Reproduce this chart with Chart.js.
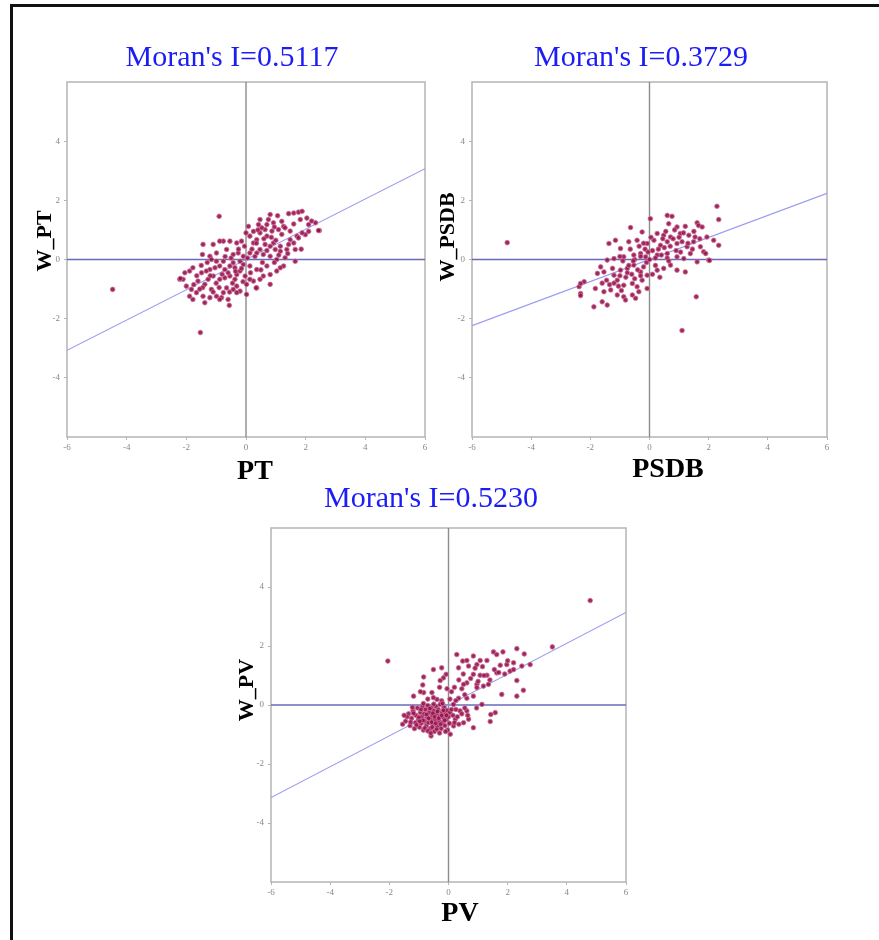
<!DOCTYPE html>
<html>
<head>
<meta charset="utf-8">
<script src="https://cdn.jsdelivr.net/npm/chart.js@4.4.1/dist/chart.umd.min.js"></script>
<style>
  html, body { margin: 0; padding: 0; background: #fff; }
  #page { position: relative; width: 879px; height: 940px; overflow: hidden; }
  #page canvas { position: absolute; left: 0; top: 0; }
  #frame { position: absolute; left: 10px; top: 4px; right: -10px; bottom: -10px;
           border-top: 3px solid #111; border-left: 3px solid #111; }
</style>
</head>
<body>
<div id="page">
  <div id="frame"></div>
  <canvas id="c-pt" width="879" height="940"></canvas>
  <canvas id="c-psdb" width="879" height="940"></canvas>
  <canvas id="c-pv" width="879" height="940"></canvas>
</div>
<script>
// Moran's I scatter plots (x = standardized value, y = spatial lag)
const panelNames = ['PT', 'PSDB', 'PV'];
const lagNames = ['W_PT', 'W_PSDB', 'W_PV'];
const moranI = [0.5117, 0.3729, 0.5230];
const xTicks = [-6, -4, -2, 0, 2, 4, 6];
const yTicks = [-4, -2, 0, 2, 4];
const axisMin = -6;
const axisMax = 6;

// PT vs W_PT
const ptPoints = [
  [1.43,1.55],[1.60,1.57],[1.76,1.60],[1.88,1.63],[1.06,1.48],[0.81,1.52],[0.47,1.35],[0.42,1.18],
  [0.70,1.18],[0.92,1.24],[1.20,1.29],[1.26,1.12],[1.82,1.35],[2.04,1.40],[2.10,1.18],[2.46,0.98],
  [2.33,1.24],[1.99,0.84],[1.71,0.79],[1.48,0.67],[1.65,0.34],[1.37,0.34],[1.15,0.45],[0.92,0.56],
  [0.70,0.79],[0.47,0.90],[0.36,0.67],[0.25,0.56],[0.13,0.79],[0.08,1.12],[0.00,0.90],[-0.15,0.62],
  [-0.31,0.56],[-0.54,0.62],[-0.76,0.62],[-0.88,0.62],[-1.10,0.51],[-1.44,0.51],[-1.46,0.17],[-1.21,0.11],
  [-0.99,0.22],[-0.65,0.34],[-0.43,0.17],[-0.26,0.22],[-0.09,0.11],[0.13,0.22],[0.36,0.22],[0.58,0.17],
  [0.81,0.11],[1.03,0.00],[1.31,0.06],[1.65,-0.06],[1.26,-0.22],[1.15,-0.28],[1.03,-0.39],[0.81,-0.51],
  [0.58,-0.56],[0.47,-0.67],[0.36,-0.96],[0.25,-0.73],[0.13,-0.67],[-0.03,-0.56],[-0.20,-0.39],[-0.37,-0.28],
  [-0.54,-0.22],[-0.71,-0.34],[-0.88,-0.22],[-1.04,-0.28],[-1.21,-0.34],[-1.33,-0.39],[-1.49,-0.45],[-1.78,-0.28],
  [-1.89,-0.39],[-2.11,-0.67],[-2.22,-0.67],[-2.00,-0.90],[-1.83,-1.01],[-1.66,-1.12],[-1.44,-1.24],[-1.21,-1.29],
  [-0.99,-1.24],[-0.76,-1.12],[-0.65,-0.96],[-0.43,-1.01],[-0.31,-0.90],[-0.20,-1.07],[0.02,-1.18],[-0.60,-1.35],
  [-0.82,-1.29],[-1.16,-1.01],[-1.38,-0.84],[-1.61,-0.73],[-1.27,-0.67],[-1.10,-0.56],[-0.88,-0.67],[-0.71,-0.62],
  [-0.54,-0.56],[-0.37,-0.67],[-0.31,-0.51],[-1.89,-1.24],[-1.78,-1.35],[-1.38,-1.46],[-0.88,-1.35],[-0.56,-1.55],
  [-0.31,-1.12],[0.34,-0.96],[0.81,-0.84],[0.02,-0.84],[0.70,-0.22],[0.36,-0.34],[0.13,-0.22],[-0.09,-0.17],
  [-0.20,-0.06],[-0.43,-0.11],[-0.76,-0.06],[-0.99,-0.06],[-1.16,0.00],[0.47,0.34],[0.64,0.51],[0.81,0.45],
  [0.98,0.34],[1.15,0.28],[1.43,0.51],[1.60,0.56],[1.76,0.73],[1.88,0.90],[1.48,0.96],[1.31,1.07],
  [1.09,1.01],[0.87,0.96],[0.64,1.01],[0.53,1.07],[-0.90,1.46],[-1.53,-2.47],[-4.47,-1.01],[-2.20,-0.64],
  [-0.15,-0.30],[0.05,0.05],[0.20,0.35],[0.30,0.10],[-0.60,-0.45],[-0.80,-0.50],[-1.00,-0.80],[-0.45,-0.80],
  [0.15,-0.45],[0.55,-0.10],[0.60,0.70],[0.85,0.75],[1.00,0.65],[1.20,0.85],[0.40,1.00],[0.75,1.35],
  [0.95,1.10],[-0.25,0.35],[-0.50,0.05],[-0.70,0.10],[-1.30,-0.10],[-1.50,-0.20],[-1.65,-0.55],[-1.10,-1.10],
  [-0.90,-0.95],[-0.55,-1.10],[-1.45,-0.95],[-1.75,-0.85],[-2.05,-0.45],[0.95,-0.10],[1.40,0.20],[1.85,0.35],
  [2.10,0.95],[2.20,1.30],[-0.05,0.45],[0.25,0.95],[1.60,1.20],[-0.35,-0.40],[-0.10,-0.75],[0.50,-0.35],
  [-1.20,-0.55],[-1.55,-1.00],[0.70,0.30],[1.10,0.15],[0.35,0.55],[2.43,0.98]
];

// PSDB vs W_PSDB
const psdbPoints = [
  [2.28,1.80],[2.34,1.35],[0.03,1.38],[0.60,1.49],[0.76,1.46],[-0.64,1.08],[0.65,1.21],[0.93,1.10],
  [1.21,1.12],[1.61,1.24],[1.66,1.15],[1.78,1.10],[-0.25,0.93],[0.26,0.88],[0.48,0.82],[0.71,0.76],
  [1.04,0.88],[1.33,0.82],[1.54,0.76],[1.94,0.76],[2.17,0.65],[2.34,0.48],[-1.15,0.65],[-1.37,0.54],
  [-0.98,0.37],[-0.70,0.60],[-0.42,0.65],[-0.08,0.54],[0.15,0.65],[0.37,0.48],[0.60,0.60],[0.93,0.54],
  [1.27,0.43],[1.49,0.60],[1.72,0.43],[1.83,0.26],[-1.43,-0.02],[-1.20,0.03],[-0.87,0.09],[-0.53,0.15],
  [-0.30,0.20],[-0.13,0.09],[0.26,0.15],[0.60,0.20],[0.93,0.09],[1.16,0.03],[1.38,0.20],[1.61,-0.08],
  [2.00,-0.02],[-1.65,-0.25],[-1.76,-0.47],[-1.54,-0.42],[-1.20,-0.53],[-0.98,-0.36],[-0.75,-0.30],[-0.53,-0.19],
  [-0.30,-0.42],[-0.08,-0.53],[0.26,-0.36],[0.48,-0.30],[0.71,-0.19],[0.93,-0.36],[1.21,-0.42],[-2.21,-0.75],
  [-2.38,-0.92],[-2.33,-1.15],[-1.83,-0.98],[-1.54,-1.09],[-1.31,-1.03],[-1.09,-0.70],[-0.87,-0.87],[-0.58,-0.81],
  [-0.42,-0.92],[-0.08,-0.98],[-1.09,-1.20],[-0.87,-1.26],[-0.58,-1.20],[-0.36,-1.09],[-1.88,-1.60],[-1.60,-1.43],
  [-1.43,-1.54],[-0.81,-1.37],[-0.47,-1.31],[1.58,-1.26],[1.10,-2.40],[-4.81,0.57],[2.03,-0.03],[-2.33,-0.81],
  [-2.33,-1.22],[-0.50,0.00],[-0.30,0.10],[-0.10,-0.10],[0.10,0.30],[0.30,0.35],[0.50,0.40],[0.70,0.45],
  [0.90,0.30],[1.10,0.60],[1.30,0.55],[0.00,0.00],[-0.20,-0.25],[-0.40,-0.35],[-0.60,-0.50],[-0.80,-0.60],
  [-1.00,-0.55],[-1.20,-0.80],[-0.70,-0.20],[-0.90,-0.05],[0.20,0.05],[0.40,0.15],[0.60,0.05],[0.80,0.70],
  [1.00,0.75],[0.55,0.95],[-0.15,0.35],[-0.65,0.35],[-1.00,0.10],[-1.25,-0.30],[-1.45,-0.70],[-0.25,-0.70],
  [0.10,-0.50],[0.35,-0.60],[-0.50,-0.65],[1.50,0.95],[1.70,0.70],[1.90,0.20],[-0.35,0.45],[0.05,0.75],
  [-1.60,-0.80],[0.85,1.00],[1.15,0.90],[0.45,0.70],[-0.05,0.25],[-0.55,-0.05],[-0.75,-0.45],[-1.05,-0.90],
  [0.20,-0.20],[0.65,-0.05],[1.05,0.25],[1.45,0.35],[-0.20,0.55],[-1.35,-0.85],[-0.95,-1.05],[-0.30,-0.55]
];

// PV vs W_PV
const pvPoints = [
  [4.79,3.54],[3.51,1.97],[-2.05,1.49],[1.52,1.80],[1.84,1.80],[2.31,1.91],[2.56,1.73],[2.76,1.37],
  [2.20,1.43],[1.97,1.37],[1.75,1.35],[1.63,1.71],[1.30,1.51],[1.07,1.51],[0.84,1.66],[0.62,1.51],
  [0.48,1.49],[0.28,1.71],[0.34,1.26],[0.68,1.32],[0.96,1.37],[2.48,1.32],[2.08,1.15],[2.31,0.83],
  [2.53,0.50],[2.31,0.30],[1.80,0.36],[1.63,1.09],[1.30,1.01],[1.07,1.01],[0.84,1.04],[0.62,0.75],
  [0.51,0.70],[0.96,0.70],[1.18,0.64],[1.35,0.70],[0.96,0.59],[0.62,0.23],[0.34,0.23],[0.84,0.30],
  [1.13,0.02],[0.17,0.02],[-0.84,0.95],[-0.87,0.68],[-0.51,1.20],[-0.23,1.26],[-0.08,1.04],[-0.17,0.92],
  [-0.28,0.83],[-1.18,0.30],[-0.84,0.42],[-0.56,0.42],[-0.39,0.19],[-0.23,0.14],[-0.51,0.25],[0.39,-0.20],
  [0.62,-0.20],[0.68,-0.48],[0.51,-0.60],[0.84,-0.77],[1.41,-0.56],[1.58,-0.26],[1.43,-0.32],[0.23,-0.48],
  [0.06,-0.99],[0.17,-0.71],[-0.59,-1.05],
  [-1.45,-0.55],[-1.35,-0.30],[-1.30,-0.70],[-1.25,-0.45],[-1.20,-0.20],[-1.15,-0.80],[-1.12,-0.60],[-1.10,-0.35],
  [-1.05,-0.10],[-1.02,-0.50],[-0.98,-0.75],[-0.95,-0.25],[-0.92,-0.62],[-0.90,-0.40],[-0.88,-0.05],[-0.85,-0.85],
  [-0.82,-0.30],[-0.80,-0.55],[-0.78,-0.15],[-0.75,-0.70],[-0.72,-0.42],[-0.70,-0.02],[-0.68,-0.60],[-0.65,-0.25],
  [-0.62,-0.80],[-0.60,-0.48],[-0.58,-0.10],[-0.55,-0.35],[-0.52,-0.65],[-0.50,-0.20],[-0.48,-0.90],[-0.45,-0.50],
  [-0.42,-0.05],[-0.40,-0.30],[-0.38,-0.72],[-0.35,-0.15],[-0.32,-0.55],[-0.30,-0.38],[-0.28,0.02],[-0.25,-0.80],
  [-0.22,-0.25],[-0.20,-0.60],[-0.18,-0.42],[-0.15,-0.08],[-0.12,-0.70],[-0.10,-0.30],[-0.08,-0.50],[-0.05,-0.18],
  [-0.03,-0.85],[0.00,-0.40],[0.03,-0.62],[0.05,-0.25],[-1.40,-0.40],[-1.28,-0.58],[-1.18,-0.28],[-1.08,-0.68],
  [-1.00,-0.42],[-0.93,-0.15],[-0.86,-0.52],[-0.80,-0.78],[-0.74,-0.32],[-0.67,-0.45],[-0.63,-0.12],[-0.57,-0.58],
  [-0.53,-0.28],[-0.47,-0.40],[-0.43,-0.62],[-0.37,-0.22],[-0.33,-0.45],[-0.27,-0.65],[-0.23,-0.35],[-0.17,-0.18],
  [-0.13,-0.52],[-0.07,-0.35],[-0.97,-0.55],[-0.70,-0.88],[-0.55,-0.75],[-0.40,-0.82],[-1.22,-0.08],[-0.85,0.05],
  [-0.50,0.03],[-0.20,0.05],[-1.55,-0.65],[-1.50,-0.35],[-0.60,-0.95],[-0.30,-0.95],[-0.10,-0.90],
  [0.15,-0.35],[0.25,-0.15],[0.30,-0.40],[0.45,-0.30],[0.55,-0.10],[0.20,-0.60],[0.35,-0.65],[0.10,-0.15],
  [0.65,-0.35],[0.95,-0.10],[0.10,0.45],[0.20,0.60],[0.35,0.85],[0.45,0.55],[0.05,0.20],[0.25,0.15],
  [0.55,0.35],[0.75,0.90],[1.00,0.80],[1.20,1.00],[1.40,0.85],[1.55,1.20],[1.70,1.10],[1.90,1.05],
  [2.00,1.50],[2.20,1.20],[0.90,1.25],[1.15,1.30],[0.50,1.05],[-0.05,0.55],[-0.30,0.60],[-0.70,0.20],
  [-0.95,0.45]
];

const allPoints = [ptPoints, psdbPoints, pvPoints];

// plot rectangles on the page (chart area edges) and text anchors
const panels = [
  { canvas: 'c-pt',   area: [67, 82, 425, 437],   title: [232, 58], xLab: [255, 472], yLab: [45, 241] },
  { canvas: 'c-psdb', area: [472, 82, 827, 437],  title: [641, 58], xLab: [668, 470], yLab: [448, 237] },
  { canvas: 'c-pv',   area: [271, 528, 626, 882], title: [431, 499], xLab: [460, 914], yLab: [247, 690] }
];

const Y_AXIS_W = 20;
const X_AXIS_H = 16;
const PAGE_W = 879;
const PAGE_H = 940;

const decor = {
  id: 'decor',
  beforeDatasetsDraw(chart) {
    const a = chart.chartArea;
    const ctx = chart.ctx;
    ctx.save();
    ctx.strokeStyle = '#b4b4b4';
    ctx.lineWidth = 1.5;
    ctx.strokeRect(a.left, a.top, a.right - a.left, a.bottom - a.top);
    ctx.restore();
  },
  afterDraw(chart, args, opts) {
    const ctx = chart.ctx;
    ctx.save();
    ctx.textAlign = 'center';
    ctx.textBaseline = 'middle';
    ctx.fillStyle = '#1c1cf5';
    ctx.font = '30px "Liberation Serif", "DejaVu Serif", serif';
    ctx.fillText(opts.title, opts.tx, opts.ty);

    ctx.fillStyle = '#000';
    ctx.font = 'bold 28px "Liberation Serif", "DejaVu Serif", serif';
    ctx.fillText(opts.xLabel, opts.xlx, opts.xly);

    ctx.translate(opts.ylx, opts.yly);
    ctx.rotate(-Math.PI / 2);
    ctx.font = 'bold 22px "Liberation Serif", "DejaVu Serif", serif';
    ctx.fillText(opts.yLabel, 0, 0);
    ctx.restore();
  }
};

function makePanel(i) {
  const p = panels[i];
  const [left, top, right, bottom] = p.area;
  const slope = moranI[i];
  const pts = allPoints[i].map(d => ({ x: d[0], y: d[1] }));

  new Chart(document.getElementById(p.canvas), {
    type: 'scatter',
    data: {
      datasets: [
        {
          label: 'points',
          data: pts,
          pointRadius: 2.3,
          pointBorderWidth: 1,
          backgroundColor: 'rgba(145,18,75,0.9)',
          borderColor: 'rgba(205,110,150,0.85)',
          order: 0
        },
        {
          label: 'fit',
          type: 'line',
          data: [{ x: axisMin, y: axisMin * slope }, { x: axisMax, y: axisMax * slope }],
          borderColor: '#9a9af2',
          borderWidth: 1.2,
          pointRadius: 0,
          order: 1
        },
        {
          label: 'h0',
          type: 'line',
          data: [{ x: axisMin, y: 0 }, { x: axisMax, y: 0 }],
          borderColor: '#6a6ab8',
          borderWidth: 1.4,
          pointRadius: 0,
          order: 2
        },
        {
          label: 'v0',
          type: 'line',
          data: [{ x: 0, y: axisMin }, { x: 0, y: axisMax }],
          borderColor: '#8c8c8c',
          borderWidth: 1.4,
          pointRadius: 0,
          order: 3
        }
      ]
    },
    options: {
      responsive: false,
      animation: false,
      devicePixelRatio: 1,
      layout: {
        padding: {
          left: left - Y_AXIS_W,
          top: top,
          right: PAGE_W - right,
          bottom: PAGE_H - bottom - X_AXIS_H
        }
      },
      plugins: {
        legend: { display: false },
        tooltip: { enabled: false },
        decor: {
          title: "Moran's I=" + moranI[i].toFixed(4),
          tx: p.title[0], ty: p.title[1],
          xLabel: panelNames[i], xlx: p.xLab[0], xly: p.xLab[1],
          yLabel: lagNames[i], ylx: p.yLab[0], yly: p.yLab[1]
        }
      },
      scales: {
        x: {
          type: 'linear',
          min: axisMin,
          max: axisMax,
          afterBuildTicks: s => { s.ticks = xTicks.map(v => ({ value: v })); },
          afterFit: s => { s.height = X_AXIS_H; },
          border: { display: false },
          grid: { display: true, drawOnChartArea: false, tickLength: 3, color: '#b4b4b4' },
          ticks: {
            padding: 2,
            maxRotation: 0,
            color: '#888',
            font: { family: '"Liberation Serif", serif', size: 9 }
          }
        },
        y: {
          type: 'linear',
          min: axisMin,
          max: axisMax,
          afterBuildTicks: s => { s.ticks = yTicks.map(v => ({ value: v })); },
          afterFit: s => { s.width = Y_AXIS_W; },
          border: { display: false },
          grid: { display: true, drawOnChartArea: false, tickLength: 3, color: '#b4b4b4' },
          ticks: {
            padding: 4,
            color: '#888',
            font: { family: '"Liberation Serif", serif', size: 9 }
          }
        }
      }
    },
    plugins: [decor]
  });
}

panels.forEach((p, i) => makePanel(i));
</script>
</body>
</html>
